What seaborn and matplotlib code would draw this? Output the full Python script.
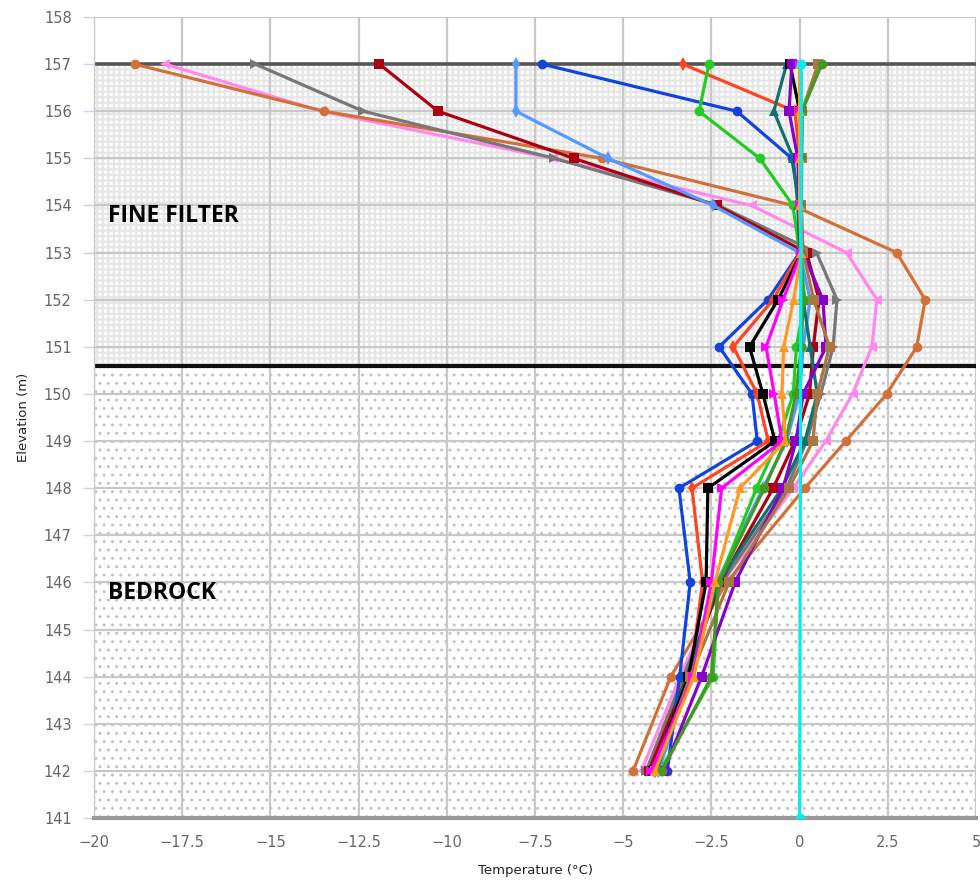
import numpy as np
import pandas as pd
import matplotlib
matplotlib.use("Agg")
import matplotlib.pyplot as plt
import seaborn as sns
from matplotlib.patches import Rectangle

# ---------------- data ----------------
elevations = [157, 156, 155, 154, 153, 152, 151, 150, 149, 148, 146, 144, 142]

pink      = [-17.98, -13.55, -7.0, -1.36, 1.33, 2.19, 2.05, 1.5, 0.74, -0.18, -2.2, -3.39, -4.48]
chocolate = [-18.85, -13.48, -5.6, -0.19, 2.75, 3.56, 3.32, 2.47, 1.31, 0.15, -2.07, -3.65, -4.72]
gray      = [-15.43, -12.37, -6.95, -2.3, 0.48, 1.06, 0.95, 0.6, 0.2, -0.37, -2.2, -3.3, -4.35]
darkred   = [-11.91, -10.25, -6.4, -2.35, 0.2, 0.55, 0.39, 0.28, -0.13, -0.75, -2.25, -3.2, -4.27]
lightblue = [-8.04, -8.04, -5.43, -2.45, 0.0, 0.3, 0.1, 0.0, -0.37, -1.04, -2.35, -3.1, -4.0]
blue      = [-7.3, -1.78, -0.22, 0.0, 0.0, -0.9, -2.28, -1.35, -1.2, -3.42, -3.1, -3.4, -3.75]
red       = [-3.31, -0.13, 0.0, 0.0, 0.0, -0.75, -1.88, -1.2, -0.89, -3.05, -2.75, -3.1, -4.1]
green     = [-2.57, -2.85, -1.13, -0.19, 0.0, 0.15, -0.09, -0.18, -0.61, -1.22, -2.3, -2.45, -3.96]
teal      = [-0.37, -0.73, -0.18, -0.05, 0.0, 0.1, 0.3, 0.5, 0.15, -0.5, -2.3, -3.2, -4.05]
black     = [-0.27, 0.0, 0.0, 0.0, 0.05, -0.61, -1.42, -1.04, -0.7, -2.6, -2.65, -3.15, -4.15]
purple    = [-0.22, -0.3, -0.05, 0.0, 0.1, 0.66, 0.75, 0.1, -0.1, -0.47, -1.83, -2.78, -3.85]
brown     = [0.52, 0.07, 0.06, 0.05, 0.1, 0.4, 0.85, 0.5, 0.38, -0.3, -2.0, -3.1, -4.1]
olive     = [0.63, 0.07, 0.05, 0.0, 0.05, 0.1, 0.05, -0.1, -0.4, -1.0, -2.3, -2.5, -3.9]
magenta   = [0.0, 0.0, 0.0, 0.0, 0.05, -0.47, -0.95, -0.72, -0.5, -2.21, -2.5, -3.02, -4.2]
orange    = [0.0, 0.0, 0.0, 0.0, 0.05, -0.17, -0.45, -0.5, -0.4, -1.69, -2.4, -3.0, -4.1]

cyan_elevations = [157, 141]
cyan            = [0.05, 0.0]

filter_top = 157
filter_bottom = 150.6
layer_labels = ["FINE FILTER", "BEDROCK"]
layer_label_pos = [(-19.6, 153.78), (-19.6, 145.78)]

x_ticks = [-20, -17.5, -15, -12.5, -10, -7.5, -5, -2.5, 0, 2.5, 5]
y_ticks = list(range(141, 159))

# ---------------- styles ----------------
series = [
    ("pink", pink, elevations, "#FF88EE", "<"),
    ("chocolate", chocolate, elevations, "#D2703A", "o"),
    ("gray", gray, elevations, "#777777", ">"),
    ("darkred", darkred, elevations, "#AA0011", "s"),
    ("lightblue", lightblue, elevations, "#5599FF", "d"),
    ("blue", blue, elevations, "#1144DD", "o"),
    ("red", red, elevations, "#FF4422", "d"),
    ("green", green, elevations, "#22CC22", "o"),
    ("teal", teal, elevations, "#117070", "^"),
    ("black", black, elevations, "#000000", "s"),
    ("purple", purple, elevations, "#8800CC", "s"),
    ("brown", brown, elevations, "#AA7744", "s"),
    ("olive", olive, elevations, "#449922", "o"),
    ("magenta", magenta, elevations, "#FF00FF", ">"),
    ("orange", orange, elevations, "#FF9922", "^"),
    ("cyan", cyan, cyan_elevations, "#00EEEE", "o"),
]

sns.set_theme(style="white")
plt.rcParams["font.family"] = ["DejaVu Sans"]
plt.rcParams["hatch.linewidth"] = 1.6

fig = plt.figure(figsize=(9.8, 8.82), dpi=100)
ax = fig.add_axes([94 / 980, 64 / 882, (976 - 94) / 980, (818 - 17) / 882])

ax.set_xlim(-20, 5)
ax.set_ylim(141, 158)

# background layers
ax.add_patch(Rectangle((-20, filter_bottom), 25, filter_top - filter_bottom,
                       facecolor="white", edgecolor="#E6E6E6", hatch="+++",
                       linewidth=0, zorder=0))
plt.rcParams["hatch.linewidth"] = 1.0
ax.add_patch(Rectangle((-20, 141), 25, filter_bottom - 141,
                       facecolor="white", edgecolor="#C4C4C4", hatch="..",
                       linewidth=0, zorder=0))

ax.set_axisbelow(True)
ax.grid(True, color="#C8C8C8", linewidth=1.6)

ax.axhline(filter_top, color="#555555", linewidth=2.6, zorder=1.5)
ax.axhline(filter_bottom, color="#111111", linewidth=3.0, zorder=1.5)

for name, vals, elev, col, mk in series:
    df = pd.DataFrame({"temp": vals, "elev": elev})
    sns.lineplot(data=df, x="temp", y="elev", sort=False, estimator=None,
                 orient="y", color=col, linewidth=2.3, marker=mk,
                 markersize=7, markeredgewidth=0, ax=ax, zorder=3)

for txt, (tx, ty) in zip(layer_labels, layer_label_pos):
    ax.text(tx, ty, txt, fontsize=16.5, fontweight="bold", color="black",
            family=["Open Sans", "DejaVu Sans"], va="center", ha="left", zorder=4)

ax.set_xticks(x_ticks)
ax.set_xticklabels([("%g" % v).replace("-", "\u2212") for v in x_ticks])
ax.set_yticks(y_ticks)
ax.tick_params(axis="x", length=0, pad=12, labelsize=10.5, labelcolor="#666666")
ax.tick_params(axis="y", length=8, width=1, color="#CCD6EB", pad=8,
               labelsize=10.5, labelcolor="#666666", left=True)

for s in ["top", "right"]:
    ax.spines[s].set_visible(False)
ax.spines["left"].set_color("#CCCCCC")
ax.spines["left"].set_linewidth(1.0)
ax.spines["bottom"].set_color("#999999")
ax.spines["bottom"].set_linewidth(3.0)

ax.set_xlabel("Temperature (°C)", fontsize=9.5, color="#222222", labelpad=10)
ax.set_ylabel("Elevation (m)", fontsize=9.5, color="#222222", labelpad=10)

fig.savefig("out.png", dpi=100)
